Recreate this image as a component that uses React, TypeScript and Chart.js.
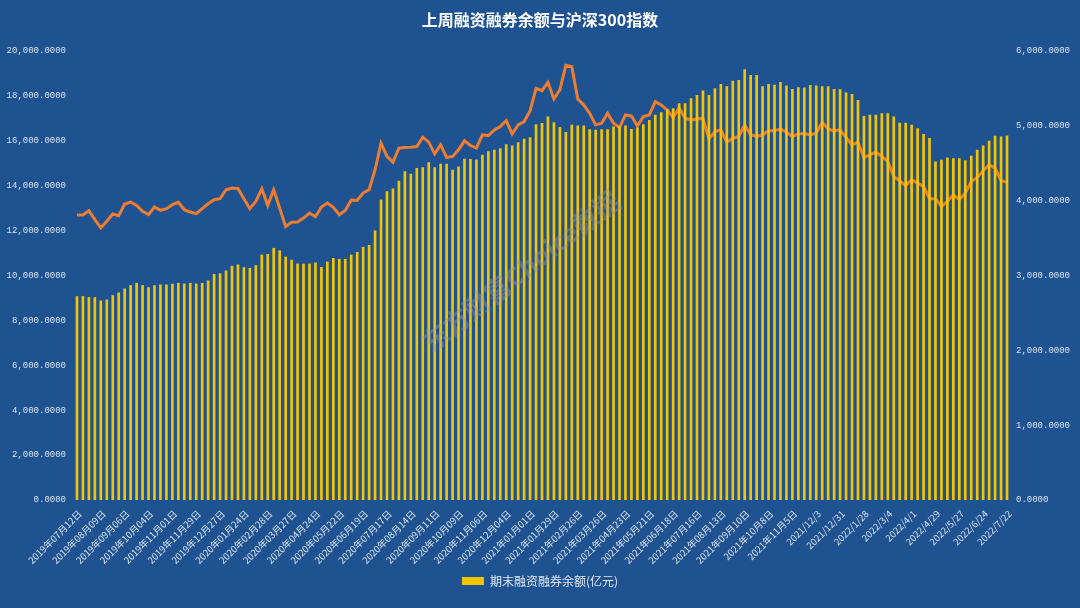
import React, { useEffect, useRef } from 'react';
import { Chart, registerables } from 'chart.js';

Chart.register(...registerables);

const tickLabels: string[] = [
  '2019年07月12日', '2019年08月09日', '2019年09月06日', '2019年10月04日', '2019年11月01日',
  '2019年11月29日', '2019年12月27日', '2020年01月24日', '2020年02月28日', '2020年03月27日',
  '2020年04月24日', '2020年05月22日', '2020年06月19日', '2020年07月17日', '2020年08月14日',
  '2020年09月11日', '2020年10月09日', '2020年11月06日', '2020年12月04日', '2021年01月01日',
  '2021年01月29日', '2021年02月26日', '2021年03月26日', '2021年04月23日', '2021年05月21日',
  '2021年06月18日', '2021年07月16日', '2021年08月13日', '2021年09月10日', '2021年10月8日',
  '2021年11月5日', '2021/12/3', '2021/12/31', '2022/1/28', '2022/3/4',
  '2022/4/1', '2022/4/29', '2022/5/27', '2022/6/24', '2022/7/22',
];

// 期末融资融券余额(亿元), weekly
const marginBalance: number[] = [
  9080, 9080, 9040, 9040, 8890, 8930, 9120, 9240, 9420, 9570, 9670, 9570, 9480, 9570, 9600, 9600,
  9630, 9670, 9640, 9670, 9640, 9670, 9780, 10070, 10100, 10220, 10430, 10490, 10370, 10340, 10460,
  10930, 10960, 11230, 11120, 10840, 10700, 10530, 10530, 10530, 10580, 10380, 10620, 10780, 10740,
  10740, 10930, 11050, 11270, 11360, 12000, 13390,
  13750, 13870, 14220, 14640, 14530, 14790, 14820, 15050, 14820, 14980, 14980, 14710, 14860, 15200,
  15190, 15170, 15380, 15530, 15600, 15670, 15850, 15790, 15940, 16090, 16160, 16740, 16790, 17080,
  16830, 16610, 16390, 16710, 16680, 16680, 16520, 16490, 16520, 16520, 16640, 16640, 16680, 16530,
  16590, 16740, 16930, 17160, 17270, 17410, 17450, 17670, 17670, 17900, 18040,
  18240, 18040, 18340, 18530, 18430, 18680, 18710, 19190, 18930, 18930, 18430, 18530, 18500, 18620,
  18460, 18310, 18390, 18370, 18490, 18460, 18430, 18430, 18310, 18300, 18150, 18090, 17820, 17110,
  17160, 17160, 17230, 17230, 17080, 16800, 16800, 16710, 16560, 16300, 16120, 15080, 15160, 15260,
  15220, 15220, 15130, 15330, 15600, 15790, 16000, 16220, 16190, 16240,
];

// 沪深300指数, weekly close
const csi300: number[] = [
  3810, 3810, 3866, 3746, 3635, 3724, 3822, 3800, 3955, 3982, 3937, 3857, 3813, 3915, 3870, 3893,
  3946, 3977, 3880, 3848, 3826, 3893, 3959, 4013, 4026, 4146, 4168, 4164, 4026, 3893, 3991, 4159,
  3937, 4146, 3902, 3653, 3711, 3715, 3768, 3835, 3786, 3915, 3968, 3910, 3813, 3870, 4008, 4004,
  4102, 4146, 4413, 4768,
  4591, 4515, 4702, 4711, 4715, 4724, 4849, 4782, 4626, 4746, 4577, 4591, 4680, 4800, 4737, 4702,
  4880, 4870, 4946, 4991, 5071, 4893, 5013, 5057, 5200, 5501, 5470, 5581, 5359, 5483, 5808, 5790,
  5359, 5279, 5168, 5013, 5034, 5168, 5034, 4977, 5146, 5132, 4999, 5123, 5146, 5323, 5279, 5212,
  5110, 5243, 5101, 5079, 5090,
  5101, 4826, 4923, 4946, 4782, 4835, 4857, 5013, 4880, 4857, 4880, 4933, 4933, 4959, 4915, 4857,
  4893, 4893, 4880, 4902, 5048, 4959, 4933, 4946, 4844, 4746, 4782, 4577, 4613, 4649, 4591, 4524,
  4324, 4266, 4200, 4280, 4235, 4191, 4026, 4026, 3924, 3991, 4079, 4013, 4102, 4257, 4311, 4399,
  4479, 4435, 4266, 4248,
];

const titleText = '上周融资融券余额与沪深300指数';
const barLabel = '期末融资融券余额(亿元)';
const lineLabel = '沪深300指数';
const watermark = '东方财富Choice数据';

const fmt = (v: number) =>
  Number(v).toLocaleString('en-US', { minimumFractionDigits: 4, maximumFractionDigits: 4 });

const BG = '#1E5290';
const TICK = '#D8E3F0';

export default function App() {
  const ref = useRef<HTMLCanvasElement>(null);

  useEffect(() => {
    document.body.style.margin = '0';
    const categories = marginBalance.map((_, i) => (i % 4 === 0 ? tickLabels[i / 4] : ''));
    const chart = new Chart(ref.current as HTMLCanvasElement, {
      type: 'bar',
      data: {
        labels: categories,
        datasets: [
          {
            type: 'bar',
            label: barLabel,
            data: marginBalance,
            backgroundColor: '#F5C400',
            yAxisID: 'y',
            order: 1,
            barPercentage: 0.45,
            categoryPercentage: 1,
          },
          {
            type: 'line',
            label: lineLabel,
            data: csi300,
            borderColor: '#ED7D31',
            backgroundColor: '#ED7D31',
            borderWidth: 3,
            pointRadius: 0,
            tension: 0,
            yAxisID: 'y1',
            order: 2,
          } as any,
        ],
      },
      options: {
        animation: false,
        responsive: false,
        maintainAspectRatio: false,
        layout: { padding: { left: 0, right: 0, top: 0, bottom: 11 } },
        plugins: {
          title: {
            display: true,
            text: titleText,
            color: '#FFFFFF',
            font: { family: 'Noto Sans CJK SC', size: 16, weight: 'bold' },
            padding: { top: 10, bottom: 21.8 },
          },
          legend: {
            position: 'bottom',
            labels: {
              filter: (item: any) => item.datasetIndex === 0,
              color: '#E2EAF4',
              font: { family: 'Noto Sans CJK SC', size: 12 },
              boxWidth: 22,
              boxHeight: 8,
              padding: 10,
            },
          },
          tooltip: { enabled: false },
        },
        scales: {
          x: {
            grid: { display: false, drawTicks: false },
            border: { display: false },
            ticks: {
              autoSkip: false,
              maxRotation: 45,
              minRotation: 45,
              color: TICK,
              font: { family: 'Noto Sans CJK SC', size: 9.5 },
              padding: 8,
              labelOffset: 3,
            },
            afterFit: (s: any) => {
              s.height = 65;
            },
          },
          y: {
            position: 'left',
            min: 0,
            max: 20000,
            grid: { display: false, drawTicks: false },
            border: { display: false },
            ticks: {
              stepSize: 2000,
              callback: (v: any) => fmt(v),
              color: TICK,
              font: { family: 'Liberation Mono', size: 9 },
              padding: 8,
            },
            afterFit: (s: any) => {
              s.width = 74;
            },
          },
          y1: {
            position: 'right',
            min: 0,
            max: 6000,
            grid: { display: false, drawTicks: false },
            border: { display: false },
            ticks: {
              stepSize: 1000,
              callback: (v: any) => fmt(v),
              color: TICK,
              font: { family: 'Liberation Mono', size: 9 },
              padding: 6,
            },
            afterFit: (s: any) => {
              s.width = 70;
            },
          },
        },
      } as any,
    });
    return () => chart.destroy();
  }, []);

  return (
    <div style={{ position: 'relative', width: 1080, height: 608, background: BG, overflow: 'hidden' }}>
      <canvas ref={ref} width={1080} height={608} style={{ display: 'block', width: 1080, height: 608 }} />
      <div
        style={{
          position: 'absolute',
          left: 520,
          top: 270,
          transform: 'translate(-50%, -50%) rotate(-38deg)',
          whiteSpace: 'nowrap',
          fontFamily: 'Noto Sans CJK SC',
          fontWeight: 'bold',
          fontSize: 26,
          color: 'rgba(150, 150, 160, 0.45)',
          pointerEvents: 'none',
        }}
      >
        {watermark}
      </div>
    </div>
  );
}
